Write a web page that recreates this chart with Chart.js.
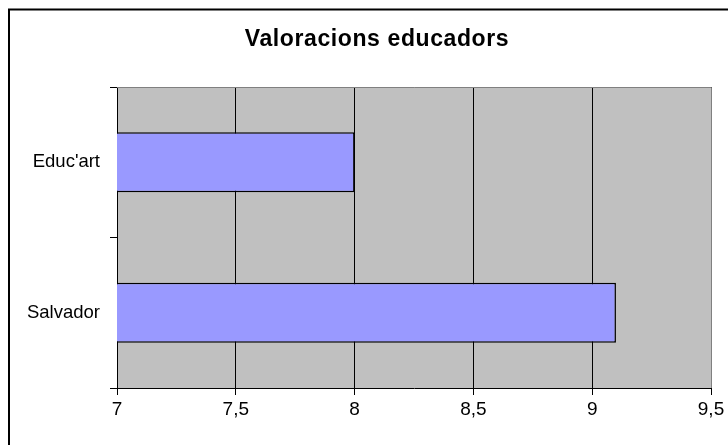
<!DOCTYPE html>
<html>
<head>
<meta charset="utf-8">
<script src="https://cdn.jsdelivr.net/npm/chart.js@4/dist/chart.umd.min.js"></script>
<style>
  html, body { margin: 0; padding: 0; background: #ffffff; }
  #wrap { position: relative; width: 728px; height: 445px; }
</style>
</head>
<body>
<div id="wrap"><canvas id="c" width="728" height="445"></canvas></div>
<script>
const categories = ["Educ'art", "Salvador"];
const scores = [8, 9.1];
const xTicks = [7, 7.5, 8, 8.5, 9, 9.5];
const chartTitle = "Valoracions educadors";

const FONT = "'Liberation Sans', Arial, sans-serif";

// frame, grey plot background, plot border and title
const decor = {
  id: 'decor',
  beforeDraw(chart) {
    const { ctx, chartArea: a } = chart;
    ctx.save();
    ctx.fillStyle = '#ffffff';
    ctx.fillRect(0, 0, chart.width, chart.height);
    ctx.fillStyle = '#c0c0c0';
    ctx.fillRect(a.left, a.top, a.right - a.left, a.bottom - a.top);
    ctx.restore();
  },
  afterDraw(chart) {
    const { ctx, chartArea: a } = chart;
    ctx.save();
    ctx.strokeStyle = '#808080';
    ctx.lineWidth = 1;
    ctx.beginPath();
    ctx.moveTo(a.left, Math.round(a.top) + 0.5);
    ctx.lineTo(Math.round(a.right) + 0.5, Math.round(a.top) + 0.5);
    ctx.lineTo(Math.round(a.right) + 0.5, Math.round(a.bottom));
    ctx.stroke();

    ctx.strokeStyle = '#000000';
    ctx.lineWidth = 2;
    ctx.beginPath();
    ctx.moveTo(9, chart.height + 5);
    ctx.lineTo(9, 9.5);
    ctx.lineTo(chart.width + 5, 9.5);
    ctx.stroke();

    ctx.fillStyle = '#000000';
    ctx.font = 'bold 23px ' + FONT;
    ctx.textAlign = 'center';
    ctx.textBaseline = 'alphabetic';
    if ('letterSpacing' in ctx) ctx.letterSpacing = '0.6px';
    ctx.fillText(chartTitle, 377, 46);
    ctx.restore();
  }
};

new Chart(document.getElementById('c'), {
  type: 'bar',
  data: {
    labels: categories,
    datasets: [{
      data: scores,
      backgroundColor: '#9999ff',
      borderColor: '#000000',
      borderWidth: 1.5,
      borderSkipped: false,
      barPercentage: 0.4,
      categoryPercentage: 1.0
    }]
  },
  options: {
    indexAxis: 'y',
    responsive: false,
    animation: false,
    devicePixelRatio: 1,
    layout: { padding: { top: 87, right: 17, left: 0, bottom: 0 } },
    plugins: {
      legend: { display: false },
      title: { display: false },
      tooltip: { enabled: false }
    },
    scales: {
      x: {
        type: 'linear',
        min: xTicks[0],
        max: xTicks[xTicks.length - 1],
        afterBuildTicks(scale) { scale.ticks = xTicks.map(v => ({ value: v })); },
        afterFit(scale) { scale.height = 57; },
        grid: { color: '#000000', lineWidth: 1, tickLength: 7, drawTicks: true },
        border: { color: '#000000', width: 1 },
        ticks: {
          color: '#000000',
          font: { family: FONT, size: 19 },
          padding: 3,
          maxRotation: 0,
          callback: v => String(v).replace('.', ',')
        }
      },
      y: {
        type: 'category',
        afterFit(scale) { scale.width = 117; },
        grid: { drawOnChartArea: false, color: '#000000', tickLength: 7, offset: true },
        border: { color: '#000000', width: 1 },
        ticks: {
          color: '#000000',
          font: { family: FONT, size: 18.5 },
          padding: 10
        }
      }
    }
  },
  plugins: [decor]
});
</script>
</body>
</html>
